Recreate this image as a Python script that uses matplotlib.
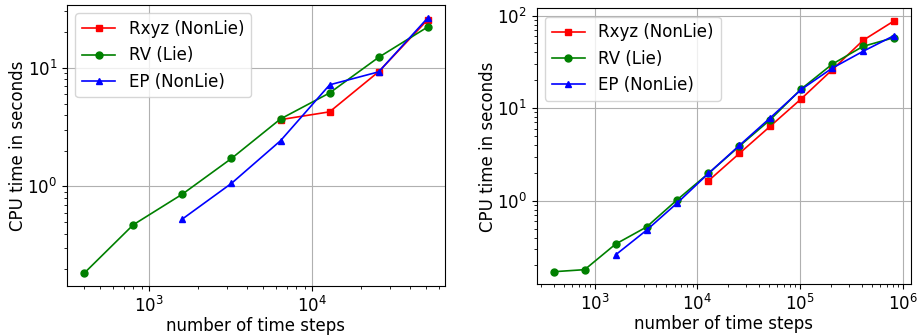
import matplotlib
matplotlib.use("Agg")
import matplotlib.pyplot as plt

# time step counts
steps_a = [400, 800, 1600, 3200, 6400, 12800, 25600, 51200]
steps_b = [400, 800, 1600, 3200, 6400, 12800, 25600, 51200, 102400, 204800, 409600, 819200]

# CPU times, first case
rxyz_a = [3.66, 4.26, 9.3, 25.6]
rv_a = [0.185, 0.474, 0.86, 1.72, 3.71, 6.15, 12.3, 22.2]
ep_a = [0.53, 1.06, 2.43, 7.2, 9.27, 26.5]

# CPU times, second case
rxyz_b = [1.64, 3.24, 6.38, 12.6, 25.9, 54.0, 87.5]
rv_b = [0.171, 0.18, 0.34, 0.52, 1.03, 1.97, 3.88, 7.5, 16.1, 29.8, 46.5, 57.7]
ep_b = [0.26, 0.48, 0.95, 1.97, 3.95, 7.86, 15.9, 27.0, 41.1, 60.7]

plt.rcParams['font.size'] = 12

fig = plt.figure(figsize=(9.23, 3.36), dpi=100)
ax1 = fig.add_axes([0.0726, 0.149, 0.4095, 0.836])
ax2 = fig.add_axes([0.5815, 0.154, 0.4055, 0.821])


def draw(ax, steps, rxyz, rv, ep):
    ax.loglog(steps[-len(rxyz):], rxyz, 'r-s', lw=1.2, ms=5, label='Rxyz (NonLie)')
    ax.loglog(steps[-len(rv):], rv, 'g-o', lw=1.2, ms=5, label='RV (Lie)')
    ax.loglog(steps[2:2 + len(ep)], ep, 'b-^', lw=1.2, ms=5, label='EP (NonLie)')
    ax.grid(True)
    ax.set_xlabel('number of time steps', labelpad=1)
    ax.set_ylabel('CPU time in seconds', labelpad=0)
    ax.legend(loc='upper left')


draw(ax1, steps_a, rxyz_a, rv_a, ep_a)
draw(ax2, steps_b, rxyz_b, rv_b, ep_b)

fig.savefig('out.png', dpi=100)
